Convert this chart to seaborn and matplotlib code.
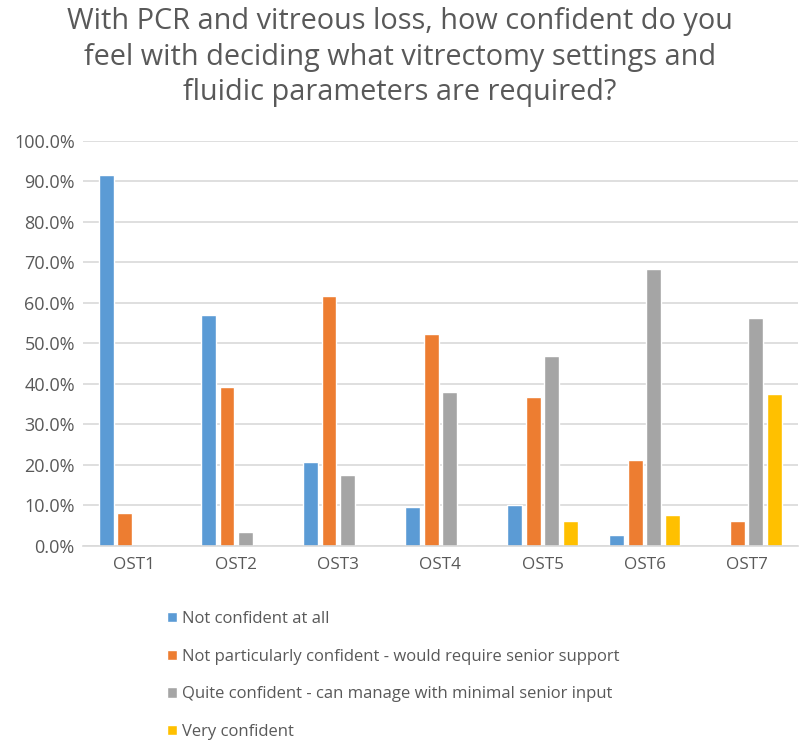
import seaborn as sns
import matplotlib.pyplot as plt
import pandas as pd
from matplotlib.ticker import PercentFormatter

groups = ["OST1", "OST2", "OST3", "OST4", "OST5", "OST6", "OST7"]
answers = [
    "Not confident at all",
    "Not particularly confident - would require senior support",
    "Quite confident - can manage with minimal senior input",
    "Very confident",
]
not_confident = [91.6, 57.0, 20.6, 9.5, 10.0, 2.6, 0.0]
not_particularly = [8.2, 39.2, 61.7, 52.3, 36.6, 21.1, 6.2]
quite_confident = [0.0, 3.5, 17.4, 37.9, 46.8, 68.3, 56.2]
very_confident = [0.0, 0.0, 0.0, 0.0, 6.1, 7.7, 37.4]

colors = ["#5B9BD5", "#ED7D31", "#A5A5A5", "#FFC000"]
txt = "#595959"

rows = []
for ans, vals in zip(answers, [not_confident, not_particularly, quite_confident, very_confident]):
    for g, v in zip(groups, vals):
        rows.append({"group": g, "answer": ans, "pct": v})
df = pd.DataFrame(rows)

sns.set_style("white")
plt.rcParams["font.family"] = ["Open Sans", "DejaVu Sans"]

fig = plt.figure(figsize=(8, 7.45), dpi=100)
ax = fig.add_axes([0.104, 0.2675, 0.893, 0.5436])

sns.barplot(data=df, x="group", y="pct", hue="answer", palette=colors,
            width=0.73, gap=0.2, saturation=1, ax=ax, legend=True)

ax.set_ylim(0, 100)
ax.set_yticks(range(0, 101, 10))
ax.yaxis.set_major_formatter(PercentFormatter(decimals=1))
ax.grid(axis="y", color="#D9D9D9", linewidth=1.2)
ax.set_axisbelow(True)
for s in ["top", "right", "left"]:
    ax.spines[s].set_visible(False)
ax.spines["bottom"].set_color("#D9D9D9")
ax.spines["bottom"].set_linewidth(1.2)
ax.tick_params(axis="both", length=0, colors=txt)
ax.tick_params(axis="y", labelsize=13, pad=6)
ax.tick_params(axis="x", labelsize=12.3, pad=8)
ax.set_xlabel("")
ax.set_ylabel("")

handles, labels = ax.get_legend_handles_labels()
ax.get_legend().remove()
fig.legend(handles, labels, loc="upper left", bbox_to_anchor=(0.19, 0.2),
           frameon=False, fontsize=12, handlelength=0.6, handleheight=0.6,
           handletextpad=0.3, labelspacing=1.3, labelcolor=txt)

fig.suptitle("With PCR and vitreous loss, how confident do you\n"
             "feel with deciding what vitrectomy settings and\n"
             "fluidic parameters are required?",
             y=0.99, fontsize=20.8, color=txt, linespacing=1.28)

fig.savefig("out.png", dpi=100)
